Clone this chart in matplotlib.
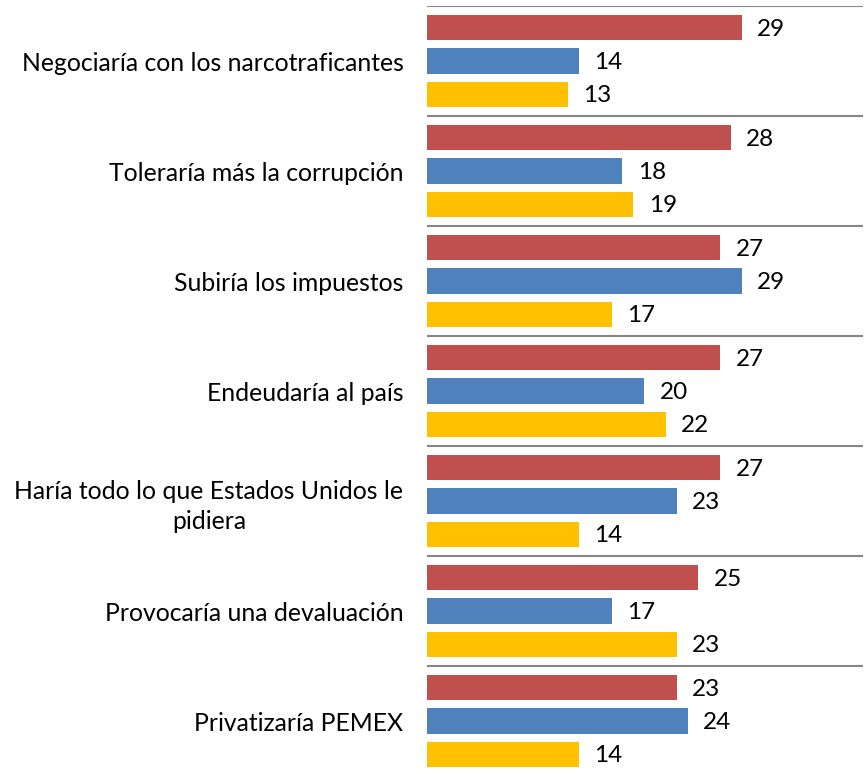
import matplotlib
matplotlib.use("Agg")
import matplotlib.pyplot as plt
import numpy as np

plt.rcParams['font.family'] = ['Lato', 'DejaVu Sans']

categories = [
    "Negociaría con los narcotraficantes",
    "Toleraría más la corrupción",
    "Subiría los impuestos",
    "Endeudaría al país",
    "Haría todo lo que Estados Unidos le\npidiera",
    "Provocaría una devaluación",
    "Privatizaría PEMEX",
]
red_vals = [29, 28, 27, 27, 27, 25, 23]
blue_vals = [14, 18, 29, 20, 23, 17, 24]
yellow_vals = [13, 19, 17, 22, 14, 23, 14]

colors = ["#C0504D", "#4F81BD", "#FFC000"]
series = [red_vals, blue_vals, yellow_vals]

W, H = 866, 774
fig = plt.figure(figsize=(W / 100, H / 100), dpi=100)
left, right, top, bottom = 427, 863, 6, 776
ax = fig.add_axes([left / W, (H - bottom) / H, (right - left) / W, (bottom - top) / H])

n = len(categories)
y = np.arange(n)
slot = 0.303
bh = 0.232
for i, (vals, c) in enumerate(zip(series, colors)):
    pos = y + (i - 1) * slot
    ax.barh(pos, vals, height=bh, color=c, edgecolor='none')
    for p, v in zip(pos, vals):
        ax.annotate(str(v), (v, p), xytext=(11, -1), textcoords='offset points',
                    va='center', ha='left', fontsize=17.5, color='black')

ax.set_ylim(n - 0.5, -0.5)
ax.set_xlim(0, 40.15)
ax.set_yticks(y)
ax.set_yticklabels(categories, fontsize=17.8)
for t in ax.get_yticklabels():
    t.set_multialignment('center')
    t.set_linespacing(1.35)
ax.tick_params(axis='y', length=0, pad=17)
ax.set_xticks([])
for b in np.arange(-0.5, n, 1.0):
    ax.axhline(b, color='#868686', lw=1.5, zorder=0)
for s in ax.spines.values():
    s.set_visible(False)

fig.savefig("out.png", dpi=100)
